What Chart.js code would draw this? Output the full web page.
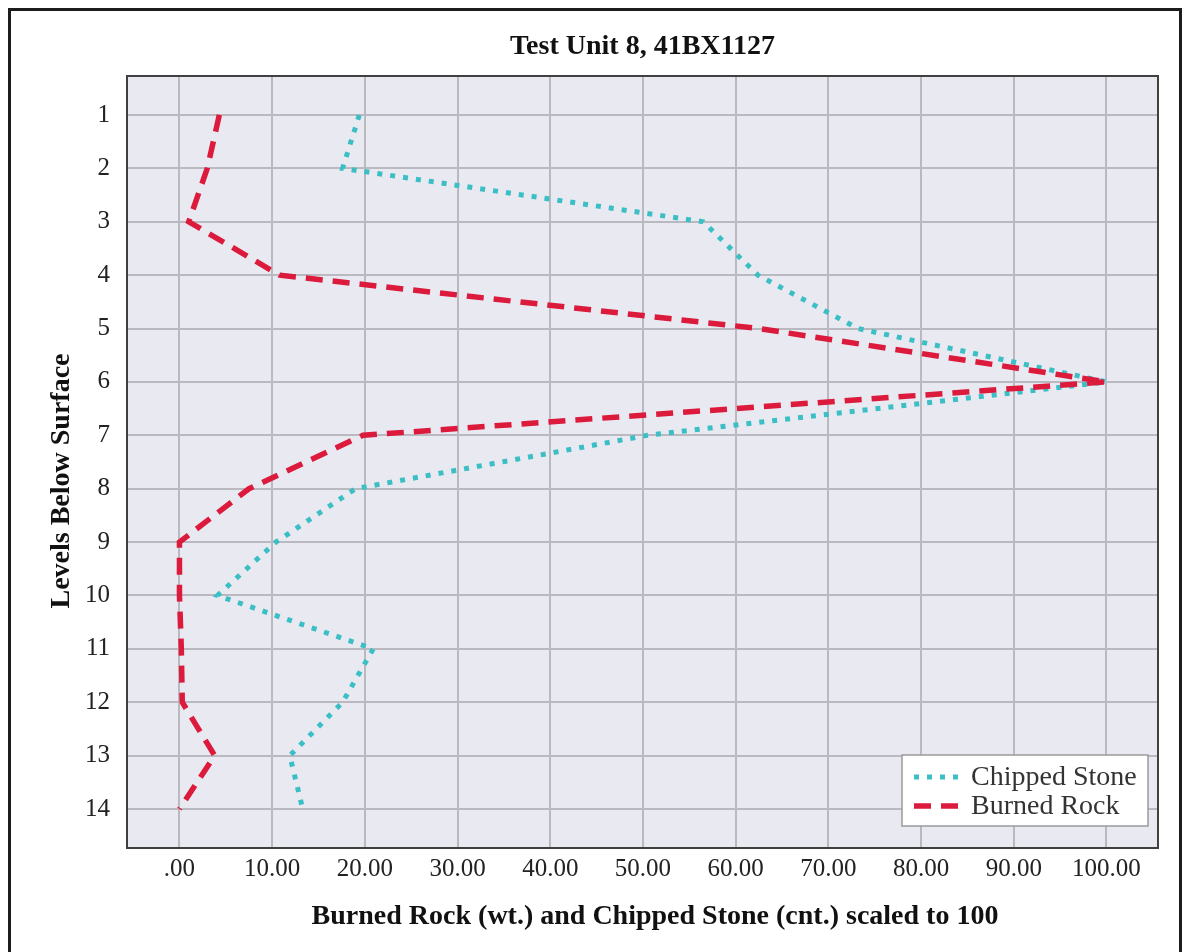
<!DOCTYPE html>
<html>
<head>
<meta charset="utf-8">
<title>Test Unit 8, 41BX1127</title>
<script src="https://cdn.jsdelivr.net/npm/chart.js@4.4.1/dist/chart.umd.min.js"></script>
<style>
  html, body { margin: 0; padding: 0; background: #ffffff; }
  #chart { display: block; }
</style>
</head>
<body>
<canvas id="chart" width="1191" height="952"></canvas>
<script>
// levels below surface, top to bottom
const levels = [1, 2, 3, 4, 5, 6, 7, 8, 9, 10, 11, 12, 13, 14];
// chipped stone (count) and burned rock (weight), both scaled to 100
const chippedStone = [19.4, 17.6, 56.5, 62.4, 73.2, 100, 50.5, 19.0, 10.4, 4.1, 20.9, 17.6, 11.9, 13.3];
const burnedRock = [4.3, 3.0, 1.0, 10.8, 62.5, 100, 19.8, 7.5, 0, 0, 0.2, 0.3, 3.8, 0];
const xTicks = [0, 10, 20, 30, 40, 50, 60, 70, 80, 90, 100];

const serif = '"Liberation Serif", "Times New Roman", serif';
const cyan = "#3bbfc5";
const red = "#dc1a3c";

const toPoints = (values) => values.map((v, i) => ({ x: v, y: levels[i] }));

// lavender plot background, outer frame and plot border
const plotFrame = {
  id: "plotFrame",
  beforeDraw(chart) {
    const { ctx, chartArea: a } = chart;
    ctx.save();
    ctx.fillStyle = "#e9e9f2";
    ctx.fillRect(a.left, a.top, a.right - a.left, a.bottom - a.top);
    ctx.strokeStyle = "#1c1c1c";
    ctx.lineWidth = 3;
    ctx.strokeRect(9.5, 9.5, 1171, 1000);
    ctx.restore();
  },
  afterDraw(chart) {
    const { ctx, chartArea: a } = chart;
    ctx.save();
    ctx.strokeStyle = "#404040";
    ctx.lineWidth = 2;
    ctx.strokeRect(a.left, a.top, a.right - a.left, a.bottom - a.top);
    ctx.restore();
  },
};

// axis titles sit a little off the plot centre
const axisTitles = {
  id: "axisTitles",
  afterDraw(chart) {
    const { ctx } = chart;
    ctx.save();
    ctx.fillStyle = "#111";
    ctx.font = "bold 28px " + serif;
    ctx.textAlign = "center";
    ctx.textBaseline = "middle";
    ctx.fillText("Burned Rock (wt.) and Chipped Stone (cnt.) scaled to 100", 655, 917);
    ctx.translate(62, 481);
    ctx.rotate(-Math.PI / 2);
    ctx.fillText("Levels Below Surface", 0, 0);
    ctx.restore();
  },
};

// boxed legend in the lower right corner of the plot
const boxLegend = {
  id: "boxLegend",
  afterDraw(chart) {
    const { ctx, chartArea: a } = chart;
    const w = 246, h = 71;
    const left = a.right - 10 - w;
    const top = a.bottom - 22 - h;
    ctx.save();
    ctx.fillStyle = "#ffffff";
    ctx.fillRect(left, top, w, h);
    ctx.strokeStyle = "#9a9a9a";
    ctx.lineWidth = 1.5;
    ctx.strokeRect(left, top, w, h);

    const items = [chart.data.datasets[0], chart.data.datasets[1]];
    items.forEach((ds, i) => {
      const y = top + 22 + i * 29;
      ctx.beginPath();
      ctx.setLineDash(ds.borderDash);
      ctx.strokeStyle = ds.borderColor;
      ctx.lineWidth = ds.borderWidth;
      ctx.moveTo(left + 12, y);
      ctx.lineTo(left + 56, y);
      ctx.stroke();
      ctx.setLineDash([]);
      ctx.fillStyle = "#333";
      ctx.font = "28px " + serif;
      ctx.textAlign = "left";
      ctx.textBaseline = "middle";
      ctx.fillText(ds.label, left + 69, y + 1);
    });
    ctx.restore();
  },
};

new Chart(document.getElementById("chart"), {
  type: "line",
  data: {
    datasets: [
      {
        label: "Chipped Stone",
        data: toPoints(chippedStone),
        borderColor: cyan,
        borderWidth: 5,
        borderDash: [5, 8],
        pointRadius: 0,
        tension: 0,
        order: 2,
      },
      {
        label: "Burned Rock",
        data: toPoints(burnedRock),
        borderColor: red,
        borderWidth: 5.5,
        borderDash: [17, 10],
        pointRadius: 0,
        tension: 0,
        order: 1,
      },
    ],
  },
  options: {
    responsive: false,
    animation: false,
    devicePixelRatio: 1,
    events: [],
    layout: { padding: { left: 0, right: 33, top: 0, bottom: 0 } },
    scales: {
      x: {
        type: "linear",
        min: -5.66,
        max: 105.56,
        afterBuildTicks: (scale) => {
          scale.ticks = xTicks.map((v) => ({ value: v }));
        },
        afterFit: (scale) => {
          scale.height = 104;
        },
        grid: { color: "#b9b9bf", lineWidth: 2, drawTicks: false },
        border: { display: false },
        ticks: {
          padding: 6,
          color: "#222",
          font: { family: serif, size: 25 },
          maxRotation: 0,
          callback: (v) => (v === 0 ? ".00" : v.toFixed(2)),
        },
      },
      y: {
        type: "linear",
        reverse: true,
        min: 0.27,
        max: 14.73,
        afterBuildTicks: (scale) => {
          scale.ticks = levels.map((v) => ({ value: v }));
        },
        afterFit: (scale) => {
          scale.width = 127;
        },
        grid: { color: "#b9b9bf", lineWidth: 2, drawTicks: false },
        border: { display: false },
        ticks: {
          padding: 17,
          color: "#222",
          font: { family: serif, size: 25 },
        },
      },
    },
    plugins: {
      legend: { display: false },
      tooltip: { enabled: false },
      title: {
        display: true,
        text: "Test Unit 8, 41BX1127",
        fullSize: false,
        color: "#111",
        font: { family: serif, size: 28, weight: "bold", lineHeight: 1.2 },
        padding: { top: 30, bottom: 12.4 },
      },
    },
  },
  plugins: [plotFrame, axisTitles, boxLegend],
});
</script>
</body>
</html>
